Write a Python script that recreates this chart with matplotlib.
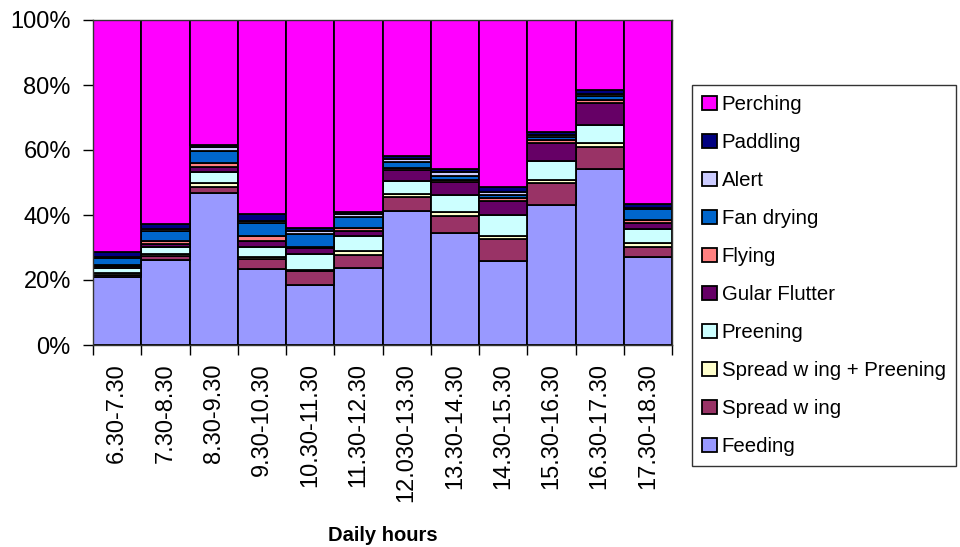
import numpy as np
import matplotlib
matplotlib.use("Agg")
import matplotlib.pyplot as plt
from matplotlib.ticker import PercentFormatter

plt.rcParams["font.family"] = ["Liberation Sans", "DejaVu Sans"]

hours = ["6.30-7.30", "7.30-8.30", "8.30-9.30", "9.30-10.30", "10.30-11.30",
         "11.30-12.30", "12.030-13.30", "13.30-14.30", "14.30-15.30",
         "15.30-16.30", "16.30-17.30", "17.30-18.30"]

# percent of time spent in each behaviour per hour
feeding = [20.8, 26.2, 46.7, 23.4, 18.5, 23.6, 41.3, 34.5, 25.9, 43.1, 54.2, 27.0]
spread_wing = [0.8, 1.2, 2.0, 3.1, 4.2, 4.0, 4.1, 5.2, 6.8, 6.6, 6.8, 3.2]
spread_preening = [0.5, 0.6, 1.2, 0.5, 0.5, 1.3, 1.0, 1.2, 0.9, 1.1, 1.1, 1.1]
preening = [1.5, 2.2, 3.3, 3.3, 4.7, 4.6, 4.2, 5.3, 6.3, 5.9, 5.6, 4.5]
gular = [0.6, 0.9, 1.5, 1.6, 1.9, 1.7, 3.2, 4.1, 4.4, 5.6, 6.8, 1.8]
flying = [0.3, 0.9, 1.2, 1.7, 0.4, 0.9, 0.6, 0.6, 1.0, 0.9, 1.0, 0.9]
fan_drying = [2.2, 3.2, 3.9, 4.0, 3.9, 3.3, 1.9, 1.2, 0.9, 0.9, 1.0, 3.2]
alert = [0.5, 0.5, 1.0, 0.5, 1.0, 1.0, 1.0, 1.0, 0.9, 0.6, 0.7, 0.6]
paddling = [1.5, 1.5, 0.8, 2.3, 1.0, 0.4, 0.9, 1.0, 1.4, 0.9, 1.3, 1.1]

series = [
    ("Feeding", feeding, "#9999FF"),
    ("Spread w ing", spread_wing, "#993366"),
    ("Spread w ing + Preening", spread_preening, "#FFFFCC"),
    ("Preening", preening, "#CCFFFF"),
    ("Gular Flutter", gular, "#660066"),
    ("Flying", flying, "#FF8080"),
    ("Fan drying", fan_drying, "#0066CC"),
    ("Alert", alert, "#CCCCFF"),
    ("Paddling", paddling, "#000080"),
]
others = np.sum([s[1] for s in series], axis=0)
perching = list(100 - others)
series.append(("Perching", perching, "#FF00FF"))

fig = plt.figure(figsize=(9.6, 5.47), dpi=100)
ax = fig.add_axes([93 / 960, 1 - 345 / 547, 579 / 960, 325 / 547])

x = np.arange(len(hours))
bottom = np.zeros(len(hours))
handles = []
for name, vals, color in series:
    b = ax.bar(x, vals, width=1.0, bottom=bottom, color=color,
               edgecolor="black", linewidth=1.3, label=name)
    handles.append(b)
    bottom += np.array(vals)

ax.set_xlim(-0.5, len(hours) - 0.5)
ax.set_ylim(0, 100)
ax.yaxis.set_major_locator(plt.MultipleLocator(20))
ax.yaxis.set_major_formatter(PercentFormatter(decimals=0))
ax.tick_params(axis="y", labelsize=17, length=7, width=1, direction="out", pad=9)

ax.set_xticks(x)
ax.set_xticklabels(hours, rotation=90, fontsize=17)
ax.tick_params(axis="x", length=0, pad=13)
ax.set_xticks(np.arange(-0.5, len(hours)), minor=True)
ax.tick_params(axis="x", which="minor", length=7, width=1)
ax.set_xlabel("Daily hours", fontsize=14.5, fontweight="bold", labelpad=17)

for sp in ax.spines.values():
    sp.set_linewidth(1)
    sp.set_color("#333333")

leg = fig.legend(handles[::-1], [s[0] for s in series[::-1]],
                 loc="upper left", bbox_to_anchor=(692 / 960, 1 - 85 / 547),
                 fontsize=14.7, frameon=True, fancybox=False, edgecolor="black",
                 handlelength=0.7, handleheight=0.7, handletextpad=0.25,
                 labelspacing=0.93, borderpad=0.5, borderaxespad=0)
leg.get_frame().set_linewidth(1)

fig.savefig("out.png", dpi=100)
